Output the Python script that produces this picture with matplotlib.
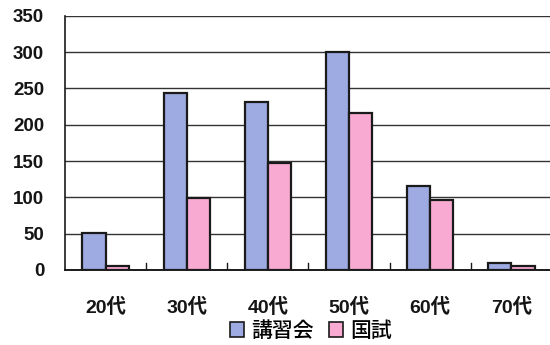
import numpy as np
import matplotlib
matplotlib.use("Agg")
import matplotlib.pyplot as plt
from matplotlib.patches import Patch

plt.rcParams['font.family'] = ['Liberation Sans', 'Noto Sans CJK JP']

categories = ["20代", "30代", "40代", "50代", "60代", "70代"]
koshukai = [51, 244, 231, 300, 116, 9]
kokushi = [6, 99, 147, 216, 97, 6]
series_names = ["講習会", "国試"]
y_ticks = [0, 50, 100, 150, 200, 250, 300, 350]

blue = "#9eaae2"
pink = "#f8aad2"
edge = "#1a1a1a"
text_color = "#151515"

fig = plt.figure(figsize=(5.5, 3.45), dpi=100)
ax = fig.add_axes([65 / 550, 75 / 345, 487 / 550, 254.3 / 345])

x = np.arange(len(categories))
w = 0.285
ax.bar(x - w / 2, koshukai, width=w, color=blue, edgecolor=edge, linewidth=1.6, zorder=3)
ax.bar(x + w / 2, kokushi, width=w, color=pink, edgecolor=edge, linewidth=1.6, zorder=3)

ax.set_xlim(-0.5, len(categories) - 0.5)
ax.set_ylim(0, 350)
ax.set_yticks(y_ticks)
ax.set_yticklabels([str(v) for v in y_ticks], fontsize=13.5, fontweight='bold', color=text_color)
ax.tick_params(axis='y', length=0, pad=15)

# category labels centered under groups, boundary ticks pointing inward
ax.set_xticks(x)
ax.set_xticklabels(categories, fontsize=14, fontweight='bold', color=text_color)
ax.tick_params(axis='x', length=0, pad=20)
for b in np.arange(0.5, len(categories) - 0.5, 1.0):
    ax.plot([b, b], [0, 9], color=edge, linewidth=1.0, zorder=2)

ax.yaxis.grid(True, color="#333333", linewidth=1.0, zorder=0)
ax.set_axisbelow(True)
for s in ["top", "right"]:
    ax.spines[s].set_visible(False)
ax.spines["left"].set_color(edge)
ax.spines["bottom"].set_color(edge)
ax.spines["left"].set_linewidth(1.2)
ax.spines["bottom"].set_linewidth(1.4)

handles = [Patch(facecolor=blue, edgecolor=edge, linewidth=1.2),
           Patch(facecolor=pink, edgecolor=edge, linewidth=1.2)]
fig.legend(handles, series_names, loc='center', bbox_to_anchor=(311 / 550, 1 - 331 / 345),
           ncol=2, frameon=False, handlelength=0.7, handleheight=0.7,
           handletextpad=0.35, columnspacing=0.7, borderpad=0,
           prop={'family': ['Noto Sans CJK JP'], 'weight': 'medium', 'size': 15})

fig.savefig("out.png", dpi=100)
